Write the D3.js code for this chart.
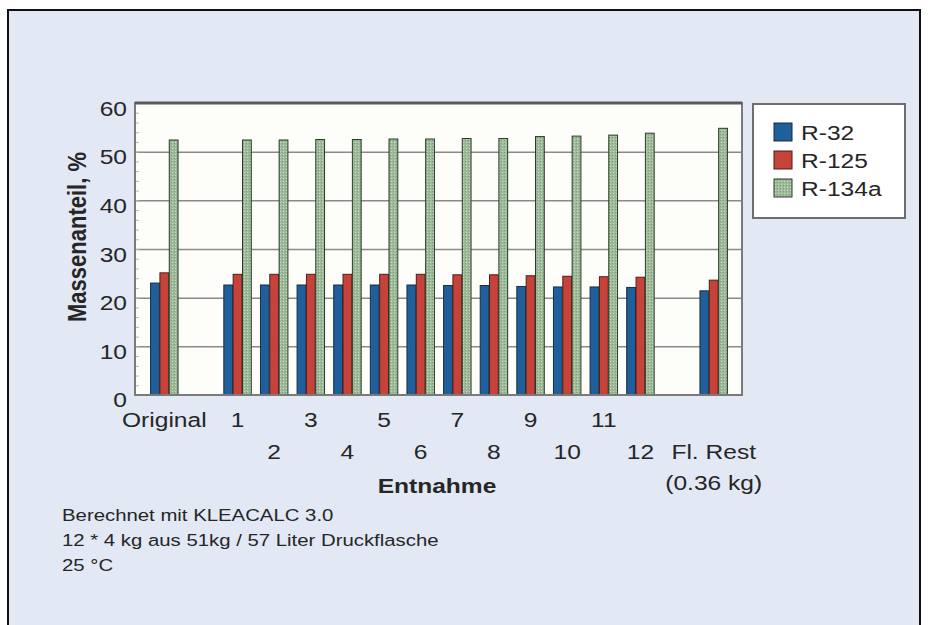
<!DOCTYPE html>
<html lang="de">
<head>
    <meta charset="UTF-8">
    <title>Massenanteil je Entnahme</title>
    <script src="https://d3js.org/d3.v7.min.js"></script>
    <style>
        body { margin: 0; background: #fff; }
        text { font-family: "Liberation Sans", Arial, sans-serif; fill: #262626; }
    </style>
</head>
<body>
    <script>
        // Data (null = empty slot on the category axis)
        const categories = ["Original", "", "1", "2", "3", "4", "5", "6", "7", "8", "9", "10", "11", "12", "", "Fl. Rest"];
        const subLabels  = ["", "", "", "", "", "", "", "", "", "", "", "", "", "", "", "(0.36 kg)"];
        const r32   = [23.0, null, 22.6, 22.6, 22.6, 22.6, 22.6, 22.6, 22.5, 22.5, 22.3, 22.2, 22.2, 22.1, null, 21.4];
        const r125  = [25.1, null, 24.8, 24.8, 24.8, 24.8, 24.8, 24.8, 24.7, 24.7, 24.5, 24.4, 24.3, 24.2, null, 23.6];
        const r134a = [52.4, null, 52.4, 52.4, 52.5, 52.5, 52.6, 52.6, 52.7, 52.7, 53.1, 53.2, 53.4, 53.8, null, 54.8];
        const seriesNames = ["R-32", "R-125", "R-134a"];
        const yTicks = [0, 10, 20, 30, 40, 50, 60];
        const notes = ["Berechnet mit KLEACALC 3.0", "12 * 4 kg aus 51kg / 57 Liter Druckflasche", "25 °C"];

        const w = 930, h = 625;
        const plot = { left: 135, right: 742, top: 103, bottom: 395 };
        const sx = 1.17; // the picture is stretched sideways, so is its text

        const svg = d3.select("body").append("svg")
            .attr("width", w).attr("height", h);

        // textured fill for the green bars
        const defs = svg.append("defs");
        const pat = defs.append("pattern").attr("id", "greenTex")
            .attr("width", 3).attr("height", 3).attr("patternUnits", "userSpaceOnUse");
        pat.append("rect").attr("width", 3).attr("height", 3).attr("fill", "#9dbb99");
        pat.append("rect").attr("x", 1).attr("y", 1).attr("width", 1).attr("height", 1).attr("fill", "#c9dcc3");
        pat.append("rect").attr("x", 0).attr("y", 2).attr("width", 1).attr("height", 1).attr("fill", "#7f9e7b");

        const colors = ["#1f5f9b", "#c7433a", "url(#greenTex)"];
        const strokes = ["#1a2c40", "#4a1f1c", "#2b3a2b"];

        // page background and outer frame
        svg.append("rect").attr("width", w).attr("height", h).attr("fill", "#ffffff");
        svg.append("rect").attr("x", 8).attr("y", 10).attr("width", 912).attr("height", 640)
            .attr("fill", "#e2e8f4").attr("stroke", "#111").attr("stroke-width", 2);

        // plot background
        svg.append("rect")
            .attr("x", plot.left).attr("y", plot.top)
            .attr("width", plot.right - plot.left).attr("height", plot.bottom - plot.top)
            .attr("fill", "#fdfdf9");

        const x = d3.scaleBand()
            .domain(d3.range(categories.length))
            .range([146, 732])
            .paddingInner(0.25)
            .paddingOuter(0.125);

        const xs = d3.scaleBand()
            .domain(d3.range(seriesNames.length))
            .range([0, x.bandwidth()])
            .paddingInner(0.06);

        const y = d3.scaleLinear().domain([0, 60]).range([plot.bottom, plot.top]);

        // gridlines
        svg.append("g")
            .attr("transform", `translate(${plot.left},0)`)
            .call(d3.axisLeft(y).tickValues(yTicks.slice(1, -1)).tickSize(-(plot.right - plot.left)).tickFormat(""))
            .call(g => g.select(".domain").remove())
            .call(g => g.selectAll("line").attr("stroke", "#8a8a8a").attr("stroke-width", 1.5));

        // small minor ticks along the left edge
        svg.append("g")
            .attr("transform", `translate(${plot.left},0)`)
            .call(d3.axisRight(y).tickValues(d3.range(2, 60, 2)).tickSize(4).tickFormat(""))
            .call(g => g.select(".domain").remove())
            .call(g => g.selectAll("line").attr("stroke", "#b8b8b8"));

        // bars
        const seriesData = [r32, r125, r134a];
        seriesData.forEach((vals, si) => {
            svg.append("g").selectAll("rect")
                .data(vals.map((v, i) => ({ i, v })).filter(d => d.v !== null))
                .enter().append("rect")
                .attr("x", d => x(d.i) + xs(si))
                .attr("y", d => y(d.v))
                .attr("width", xs.bandwidth())
                .attr("height", d => y(0) - y(d.v))
                .attr("fill", colors[si])
                .attr("stroke", strokes[si])
                .attr("stroke-width", 1);
        });

        // plot frame
        svg.append("rect")
            .attr("x", plot.left).attr("y", plot.top)
            .attr("width", plot.right - plot.left).attr("height", plot.bottom - plot.top)
            .attr("fill", "none").attr("stroke", "#7a7a7a").attr("stroke-width", 2);
        svg.append("line")
            .attr("x1", plot.left).attr("x2", plot.right)
            .attr("y1", plot.top).attr("y2", plot.top)
            .attr("stroke", "#5a5a5a").attr("stroke-width", 3);

        // y axis labels
        svg.append("g")
            .attr("transform", `translate(127,0)`)
            .call(d3.axisLeft(y).tickValues(yTicks).tickSize(0).tickPadding(0))
            .call(g => g.select(".domain").remove())
            .call(g => g.selectAll("text")
                .attr("x", null).attr("dy", null)
                .attr("transform", d => `translate(0,${d === 0 ? 11 : 12}) scale(${sx},1)`)
                .attr("font-size", 21).attr("fill", "#262626")
                .attr("font-family", "Liberation Sans, Arial, sans-serif"));

        // x axis labels, staggered in two rows
        svg.append("g")
            .attr("transform", `translate(0,${plot.bottom})`)
            .call(d3.axisBottom(x).tickSize(0).tickFormat(i => categories[i]))
            .call(g => g.select(".domain").remove())
            .call(g => g.selectAll("text")
                .attr("y", null).attr("dy", null)
                .attr("transform", i => `translate(0,${i % 2 === 0 ? 32 : 64}) scale(${sx},1)`)
                .attr("font-size", 21).attr("fill", "#262626")
                .attr("font-family", "Liberation Sans, Arial, sans-serif")
                .each(function (i) {
                    if (subLabels[i]) {
                        d3.select(this).append("tspan")
                            .attr("x", 0).attr("dy", 31).text(subLabels[i]);
                    }
                }));

        // axis titles
        svg.append("text")
            .attr("transform", `translate(437,493) scale(${sx},1)`)
            .attr("text-anchor", "middle")
            .attr("font-size", 21).attr("font-weight", "bold")
            .text("Entnahme");

        svg.append("text")
            .attr("transform", `translate(86,237) scale(${sx},1) rotate(-90)`)
            .attr("text-anchor", "middle")
            .attr("font-size", 22).attr("font-weight", "bold")
            .text("Massenanteil, %");

        // legend
        const legend = svg.append("g");
        legend.append("rect")
            .attr("x", 753).attr("y", 104).attr("width", 152).attr("height", 114)
            .attr("fill", "#ffffff").attr("stroke", "#6e6e6e").attr("stroke-width", 2);
        seriesNames.forEach((name, si) => {
            const cy = 132 + si * 28;
            legend.append("rect")
                .attr("x", 774).attr("y", cy - 9).attr("width", 18).attr("height", 18)
                .attr("fill", colors[si]).attr("stroke", strokes[si]);
            legend.append("text")
                .attr("transform", `translate(801,${cy + 8}) scale(${sx},1)`)
                .attr("font-size", 21).attr("fill", "#333")
                .text(name);
        });

        // notes under the chart
        svg.append("g").selectAll("text")
            .data(notes)
            .enter().append("text")
            .attr("transform", (d, i) => `translate(62,${521 + i * 25}) scale(${sx},1)`)
            .attr("font-size", 17.4).attr("fill", "#2e2e2e")
            .text(d => d);
    </script>
</body>
</html>
